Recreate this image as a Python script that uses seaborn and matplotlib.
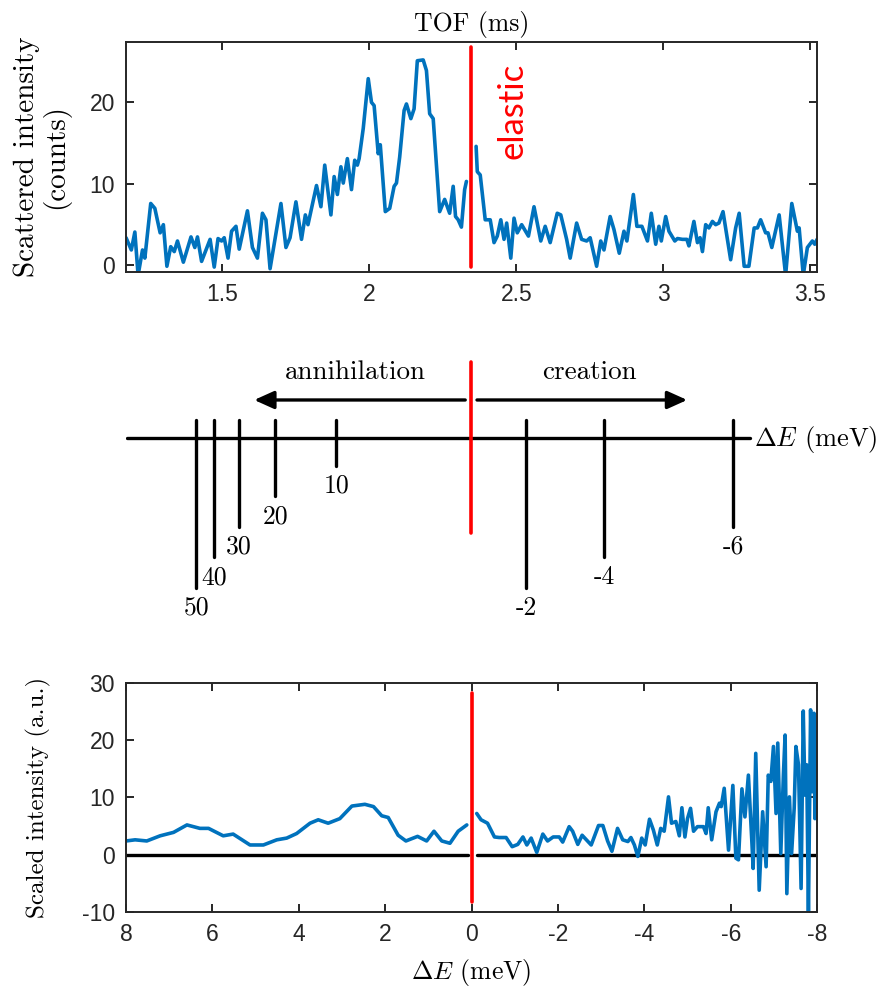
import numpy as np
import pandas as pd
import seaborn as sns
import matplotlib.pyplot as plt
from matplotlib.ticker import FormatStrFormatter

# ------------------------------------------------------------
# Values
# ------------------------------------------------------------
# top panel: counts vs time of flight, split at the elastic line
tof_low = [1.172, 1.190, 1.202, 1.213, 1.228, 1.236, 1.256, 1.270, 1.288, 1.299,
           1.311, 1.324, 1.336, 1.347, 1.367, 1.393, 1.406, 1.415, 1.429, 1.458,
           1.472, 1.485, 1.497, 1.506, 1.519, 1.531, 1.546, 1.557, 1.585, 1.602,
           1.619, 1.636, 1.648, 1.662, 1.699, 1.716, 1.730, 1.750, 1.769, 1.782,
           1.791, 1.820, 1.835, 1.848, 1.869, 1.880, 1.891, 1.903, 1.911, 1.925,
           1.939, 1.950, 1.959, 1.965, 1.979, 1.996, 2.007, 2.016, 2.030, 2.037,
           2.054, 2.069, 2.084, 2.092, 2.103, 2.118, 2.126, 2.141, 2.152, 2.163,
           2.183, 2.194, 2.205, 2.217, 2.239, 2.256, 2.273, 2.285, 2.293, 2.302,
           2.313, 2.324, 2.330]
counts_low = [3.4, 1.9, 4.1, -1.2, 1.9, 0.9, 7.6, 7.0, 4.0, 5.0,
              -0.1, 2.3, 1.7, 3.0, 0.4, 3.5, 2.2, 3.5, 0.5, 3.2,
              -0.2, 3.3, 3.0, 3.4, 0.9, 4.2, 4.8, 2.0, 6.7, 2.2,
              0.9, 6.4, 5.6, -0.4, 7.6, 2.2, 3.4, 7.8, 3.2, 6.2,
              5.0, 9.8, 7.2, 12.3, 6.2, 10.9, 8.7, 12.1, 10.1, 13.1,
              9.3, 12.9, 12.3, 13.1, 16.8, 22.9, 20.0, 19.6, 13.7, 14.8,
              6.6, 7.0, 9.7, 10.1, 13.3, 19.0, 19.8, 18.0, 19.2, 25.1,
              25.2, 23.9, 18.6, 18.0, 6.6, 8.1, 6.4, 9.7, 6.0, 5.6,
              4.7, 9.3, 10.3]
tof_high = [2.363, 2.367, 2.377, 2.394, 2.411, 2.424, 2.435, 2.447, 2.458, 2.467,
            2.481, 2.492, 2.503, 2.518, 2.541, 2.560, 2.583, 2.598, 2.615, 2.639,
            2.651, 2.671, 2.683, 2.705, 2.722, 2.739, 2.751, 2.773, 2.787, 2.798,
            2.819, 2.832, 2.850, 2.866, 2.876, 2.898, 2.910, 2.927, 2.946, 2.959,
            2.974, 2.985, 2.993, 3.008, 3.019, 3.039, 3.048, 3.065, 3.080, 3.087,
            3.104, 3.116, 3.125, 3.133, 3.144, 3.155, 3.167, 3.178, 3.189, 3.203,
            3.229, 3.246, 3.258, 3.275, 3.291, 3.309, 3.320, 3.331, 3.348, 3.356,
            3.369, 3.394, 3.416, 3.437, 3.456, 3.462, 3.476, 3.490, 3.507, 3.515,
            3.523]
counts_high = [14.6, 11.5, 11.1, 5.6, 5.6, 2.8, 3.6, 5.6, 3.2, 5.2,
               0.9, 5.8, 4.0, 5.0, 3.6, 7.2, 3.0, 4.8, 2.8, 6.4,
               6.2, 3.2, 0.9, 5.2, 3.2, 3.0, 3.4, -0.1, 3.0, 1.9,
               6.0, 4.4, 1.5, 4.2, 3.0, 8.7, 4.8, 4.8, 3.0, 6.4,
               2.6, 4.8, 3.0, 6.0, 4.2, 3.0, 3.3, 3.2, 3.2, 2.4,
               5.4, 2.8, 3.4, 1.7, 5.0, 4.6, 5.4, 5.0, 5.2, 6.6,
               0.7, 4.6, 6.4, -0.1, -0.1, 4.6, 4.6, 5.6, 4.0, 4.0,
               2.2, 6.2, -1.2, 7.6, 4.2, 4.6, -1.2, 2.2, 3.0, 2.6,
               3.2]
elastic_tof = 2.347

# middle panel: energy-transfer markers (meV) and where they fall on the TOF axis
marker_labels = ['50', '40', '30', '20', '10', '-2', '-4', '-6']
marker_tof = [1.411, 1.472, 1.557, 1.680, 1.887, 2.533, 2.798, 3.238]
marker_level = [5, 4, 3, 2, 1, 5, 4, 3]

# bottom panel: scaled intensity vs energy transfer
de_pos = [8.00, 7.79, 7.52, 7.21, 6.90, 6.59, 6.29, 6.09, 5.75, 5.52,
          5.13, 4.82, 4.51, 4.28, 4.05, 3.74, 3.55, 3.32, 3.05, 2.77,
          2.47, 2.27, 2.08, 1.93, 1.70, 1.52, 1.25, 1.04, 0.87, 0.69,
          0.50, 0.31, 0.11]
scaled_pos = [2.4, 2.6, 2.4, 3.3, 3.9, 5.2, 4.6, 4.6, 3.3, 3.6,
              1.7, 1.7, 2.6, 2.9, 3.7, 5.5, 6.1, 5.5, 6.3, 8.5,
              8.8, 8.4, 6.8, 6.5, 3.4, 2.4, 3.2, 2.4, 4.1, 2.4,
              2.0, 4.1, 5.2]
de_neg = [-0.12, -0.22, -0.37, -0.53, -0.64, -0.80, -0.94, -1.07, -1.19, -1.28,
          -1.38, -1.51, -1.65, -1.76, -1.89, -2.03, -2.11, -2.26, -2.34, -2.46,
          -2.56, -2.77, -2.94, -3.04, -3.15, -3.25, -3.38, -3.50, -3.62, -3.69,
          -3.77, -3.85, -3.94, -4.02, -4.12, -4.21, -4.30, -4.38, -4.46, -4.56,
          -4.63, -4.73, -4.81, -4.87, -4.94, -5.00, -5.07, -5.14, -5.23, -5.37,
          -5.43, -5.48, -5.56, -5.66, -5.74, -5.78, -5.85, -5.95, -6.05, -6.12,
          -6.18, -6.26, -6.33, -6.41, -6.49, -6.52, -6.58, -6.66, -6.74, -6.82,
          -6.87, -6.93, -6.99, -7.05, -7.09, -7.16, -7.22, -7.26, -7.30, -7.36,
          -7.41, -7.47, -7.51, -7.57, -7.63, -7.68, -7.72, -7.76, -7.80, -7.85,
          -7.89, -7.93, -7.95, -8.00]
scaled_neg = [7.2, 6.1, 5.5, 3.1, 3.0, 3.0, 1.4, 1.8, 3.1, 1.7,
              2.9, 0.4, 3.6, 2.4, 3.1, 3.1, 2.2, 4.9, 4.1, 1.8,
              3.4, 1.7, 5.1, 5.1, 2.4, 0.6, 4.6, 2.6, 2.3, 3.0,
              1.7, -0.3, 2.9, 1.7, 6.2, 4.3, 1.7, 4.6, 4.1, 10.1,
              5.5, 5.8, 3.3, 8.2, 3.1, 6.3, 8.1, 4.1, 4.9, 4.9,
              3.7, 8.2, 2.6, 7.5, 9.0, 8.4, 11.6, 0.8, 12.1, -0.6,
              -0.9, 11.5, 6.6, 13.9, 2.3, -2.4, 17.7, -6.2, 7.5, -2.1,
              13.9, 12.8, 18.9, 7.2, 19.5, 0.2, 13.9, 20.9, -6.8, 10.1,
              0.2, 8.1, 18.9, 15.7, -5.9, 25.1, 10.4, 15.7, -10.5, 25.3,
              11.0, 24.7, 6.3, 21.5]

# ------------------------------------------------------------
blue = '#0072BD'
red = '#FF0000'
frame = '#262626'

sns.set_theme(style='white')
plt.rcParams['font.family'] = ['Liberation Sans', 'DejaVu Sans']
plt.rcParams['mathtext.fontset'] = 'cm'
plt.rcParams['axes.unicode_minus'] = False
serif = dict(family='cmr10', color='black')

fig = plt.figure(figsize=(8.92, 9.97), dpi=100)


def style_box(ax):
    for s in ax.spines.values():
        s.set_color(frame)
        s.set_linewidth(1.4)
    ax.tick_params(which='both', direction='in', top=True, right=True,
                   bottom=True, left=True, length=6, width=1.4,
                   color=frame, labelcolor=frame, labelsize=16.5, pad=8)


# ---- top: TOF spectrum ----
ax1 = fig.add_axes([0.1413, 0.7272, 0.7747, 0.2307])
sns.lineplot(x=tof_low, y=counts_low, ax=ax1, color=blue, lw=2.6,
             estimator=None, sort=False)
sns.lineplot(x=tof_high, y=counts_high, ax=ax1, color=blue, lw=2.6,
             estimator=None, sort=False)
ax1.plot([elastic_tof, elastic_tof], [-0.2, 26.8], color=red, lw=2.6)
ax1.text(2.488, 18.9, 'elastic', rotation=90, color=red, fontsize=25,
         family='Lato', ha='center', va='center')
ax1.set_xlim(1.172, 3.523)
ax1.set_ylim(-0.8, 27.4)
ax1.set_xticks([1.5, 2, 2.5, 3, 3.5])
ax1.set_yticks([0, 10, 20])
ax1.xaxis.set_major_formatter(FormatStrFormatter('%g'))
ax1.xaxis.set_label_position('top')
ax1.set_xlabel('TOF (ms)', fontsize=18.5, labelpad=8, **serif)
ax1.set_ylabel('Scattered intensity\n(counts)', fontsize=21, labelpad=14,
               linespacing=1.05, **serif)
style_box(ax1)

# ---- middle: energy-transfer scale drawn on the TOF axis ----
ax2 = fig.add_axes([0.1413, 0.3681, 0.7747, 0.2909])
ax2.set_xlim(1.172, 3.523)
ax2.set_ylim(630, 340)
ax2.axis('off')
ax2.plot([1.176, 3.294], [438, 438], color='black', lw=2.4)
ax2.plot([elastic_tof, elastic_tof], [362, 533], color=red, lw=2.6)
for t, lab, lev in zip(marker_tof, marker_labels, marker_level):
    bottom = 466 + (lev - 1) * 30.5
    ax2.plot([t, t], [420, bottom], color='black', lw=2.4)
    ax2.text(t, bottom + 8, lab, ha='center', va='top', fontsize=18.5, **serif)
ax2.annotate('', xy=(1.608, 400), xytext=(2.326, 400),
             arrowprops=dict(arrowstyle='-|>,head_length=1.0,head_width=0.45',
                             color='black', lw=2.4, shrinkA=0, shrinkB=0))
ax2.annotate('', xy=(3.081, 400), xytext=(2.366, 400),
             arrowprops=dict(arrowstyle='-|>,head_length=1.0,head_width=0.45',
                             color='black', lw=2.4, shrinkA=0, shrinkB=0))
ax2.text(1.952, 372, 'annihilation', ha='center', va='center', fontsize=19.5, **serif)
ax2.text(2.750, 372, 'creation', ha='center', va='center', fontsize=19.5, **serif)
ax2.text(3.310, 440, r'$\Delta E$ (meV)', ha='left', va='center', fontsize=19, **serif)

# ---- bottom: scaled intensity vs energy transfer ----
ax3 = fig.add_axes([0.1413, 0.0853, 0.7747, 0.2297])
ax3.plot([8, 0.09], [0, 0], color='black', lw=2.4)
ax3.plot([-0.12, -8], [0, 0], color='black', lw=2.4)
sns.lineplot(x=de_pos, y=scaled_pos, ax=ax3, color=blue, lw=2.6,
             estimator=None, sort=False)
sns.lineplot(x=de_neg, y=scaled_neg, ax=ax3, color=blue, lw=2.6,
             estimator=None, sort=False)
ax3.plot([0, 0], [-8.2, 28.2], color=red, lw=2.6)
ax3.set_xlim(8, -8)
ax3.set_ylim(-10, 30)
ax3.set_xticks([8, 6, 4, 2, 0, -2, -4, -6, -8])
ax3.set_yticks([-10, 0, 10, 20, 30])
ax3.set_xlabel(r'$\Delta E$ (meV)', fontsize=18.5, labelpad=8, **serif)
ax3.set_ylabel('Scaled intensity (a.u.)', fontsize=18, labelpad=22, **serif)
style_box(ax3)

fig.savefig('out.png', dpi=100)
